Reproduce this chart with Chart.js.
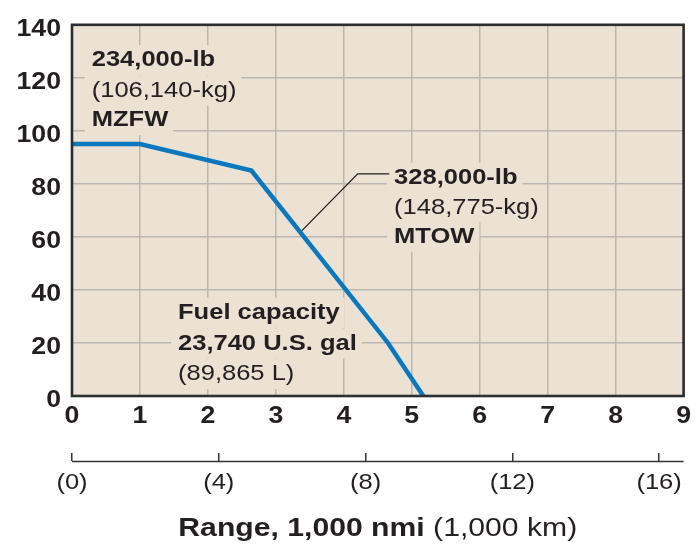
<!DOCTYPE html>
<html>
<head>
<meta charset="utf-8">
<script src="https://cdn.jsdelivr.net/npm/chart.js@4.4.1/dist/chart.umd.min.js"></script>
<style>
  html, body { margin: 0; padding: 0; background: #fff; }
  #wrap { width: 697px; height: 549px; }
</style>
</head>
<body>
<div id="wrap"><canvas id="myChart" width="697" height="549"></canvas></div>
<script>
// range in 1,000 nmi vs payload in 1,000 lb
const rangeNmi = [0, 1, 2.64, 4.65, 5.17];
const payloadLb = [95, 95, 85, 20, 0];

const xTicks = [0, 1, 2, 3, 4, 5, 6, 7, 8, 9];
const yTicks = [0, 20, 40, 60, 80, 100, 120, 140];
const kmTicks = [0, 4, 8, 12, 16];
const NM_TO_KM = 1.852;

const FONT = "'Liberation Sans', Arial, Helvetica, sans-serif";
const INK = "#231f20";
const TEXT_STRETCH = 1.16; // reference type is set wide

// notes drawn on the plot, anchored in data units
const notes = [
  { x: 0.29, y: [126.7, 115.2, 104.1], lines: [["234,000-lb", "bold"], ["(106,140-kg)", "normal"], ["MZFW", "bold"]] },
  { x: 4.74, y: [82.3, 71.1, 59.9], lines: [["328,000-lb", "bold"], ["(148,775-kg)", "normal"], ["MTOW", "bold"]] },
  { x: 1.56, y: [31.4, 19.8, 8.3], lines: [["Fuel capacity", "bold"], ["23,740 U.S. gal", "bold"], ["(89,865 L)", "normal"]] },
];
const leader = [[3.373, 62.1], [4.204, 83.8], [4.67, 83.8]];

const canvas = document.getElementById("myChart");
const ctx = canvas.getContext("2d");
const rawFill = ctx.fillText.bind(ctx);
ctx.fillText = function (text, x, y) {
  this.save();
  this.translate(x, y);
  this.scale(TEXT_STRETCH, 1);
  rawFill(text, 0, 0);
  this.restore();
};

const plotDecor = {
  id: "plotDecor",
  beforeDraw(chart) {
    const { ctx, chartArea: a } = chart;
    ctx.save();
    ctx.fillStyle = "#ebe2d4";
    ctx.fillRect(a.left, a.top, a.right - a.left, a.bottom - a.top);
    ctx.restore();
  },
  beforeDatasetsDraw(chart) {
    const { ctx, scales } = chart;
    const sx = scales.x, sy = scales.y;
    ctx.save();
    ctx.textBaseline = "middle";
    ctx.textAlign = "left";
    notes.forEach((n) => {
      const px = sx.getPixelForValue(n.x);
      n.lines.forEach(([txt, weight], i) => {
        const py = sy.getPixelForValue(n.y[i]);
        ctx.font = `${weight} 22px ${FONT}`;
        const w = ctx.measureText(txt).width * TEXT_STRETCH;
        ctx.fillStyle = "#ebe2d4";
        ctx.fillRect(px - 7, py - 15, w + 12, 30);
      });
    });
    notes.forEach((n) => {
      const px = sx.getPixelForValue(n.x);
      n.lines.forEach(([txt, weight], i) => {
        const py = sy.getPixelForValue(n.y[i]);
        ctx.font = `${weight} 22px ${FONT}`;
        ctx.fillStyle = INK;
        ctx.fillText(txt, px, py);
      });
    });
    ctx.strokeStyle = INK;
    ctx.lineWidth = 1.3;
    ctx.beginPath();
    leader.forEach(([x, y], i) => {
      const px = sx.getPixelForValue(x), py = sy.getPixelForValue(y);
      if (i === 0) ctx.moveTo(px, py); else ctx.lineTo(px, py);
    });
    ctx.stroke();
    ctx.restore();
  },
  afterDraw(chart) {
    const { ctx, chartArea: a, scales } = chart;
    ctx.save();
    ctx.strokeStyle = "#2b2f2e";
    ctx.lineWidth = 2.6;
    ctx.strokeRect(a.left, a.top, a.right - a.left, a.bottom - a.top);

    // km axis baseline under its tick marks
    const k = scales.x2;
    ctx.strokeStyle = "#333";
    ctx.lineWidth = 1.5;
    ctx.beginPath();
    ctx.moveTo(k.left, k.top + 8.5);
    ctx.lineTo(k.right, k.top + 8.5);
    ctx.stroke();

    // axis title: bold + regular parts
    const boldPart = "Range, 1,000 nmi ";
    const normPart = "(1,000 km)";
    ctx.font = `bold 26px ${FONT}`;
    const wb = ctx.measureText(boldPart).width * TEXT_STRETCH;
    ctx.font = `normal 26px ${FONT}`;
    const wn = ctx.measureText(normPart).width * TEXT_STRETCH;
    const cx = (a.left + a.right) / 2;
    const ty = k.bottom + 31;
    let x0 = cx - (wb + wn) / 2;
    ctx.textBaseline = "middle";
    ctx.textAlign = "left";
    ctx.fillStyle = INK;
    ctx.font = `bold 26px ${FONT}`;
    ctx.fillText(boldPart, x0, ty);
    ctx.font = `normal 26px ${FONT}`;
    ctx.fillText(normPart, x0 + wb, ty);
    ctx.restore();
  },
};

const data = {
  datasets: [
    {
      label: "Payload-range",
      data: rangeNmi.map((r, i) => ({ x: r, y: payloadLb[i] })),
      borderColor: "#0a78bf",
      borderWidth: 4.5,
      pointRadius: 0,
      tension: 0,
      borderCapStyle: "butt",
      borderJoinStyle: "miter",
    },
  ],
};

const config = {
  type: "line",
  data: data,
  options: {
    responsive: false,
    animation: false,
    devicePixelRatio: 1,
    layout: { padding: { top: 15, right: 12, left: 0, bottom: 51 } },
    plugins: { legend: { display: false }, tooltip: { enabled: false } },
    scales: {
      x: {
        type: "linear",
        position: "bottom",
        min: xTicks[0],
        max: xTicks[xTicks.length - 1],
        afterBuildTicks: (s) => { s.ticks = xTicks.map((v) => ({ value: v })); },
        afterFit: (s) => { s.height = 57; },
        grid: { color: "#bab6b0", lineWidth: 1.5, drawTicks: false },
        border: { display: false },
        ticks: {
          autoSkip: false,
          maxRotation: 0,
          padding: 7,
          color: INK,
          font: { family: FONT, size: 23, weight: "bold" },
        },
      },
      x2: {
        type: "linear",
        position: "bottom",
        min: 0,
        max: xTicks[xTicks.length - 1] * NM_TO_KM,
        afterBuildTicks: (s) => { s.ticks = kmTicks.map((v) => ({ value: v })); },
        afterFit: (s) => { s.height = 45; },
        grid: { drawOnChartArea: false, drawTicks: true, tickLength: 8, color: "#333", lineWidth: 1.5 },
        border: { display: false },
        ticks: {
          autoSkip: false,
          maxRotation: 0,
          padding: 9,
          color: INK,
          font: { family: FONT, size: 22, weight: "normal" },
          callback: (v) => `(${v})`,
        },
      },
      y: {
        type: "linear",
        min: yTicks[0],
        max: yTicks[yTicks.length - 1],
        afterBuildTicks: (s) => { s.ticks = yTicks.map((v) => ({ value: v })); },
        afterFit: (s) => { s.width = 72; },
        grid: { color: "#bab6b0", lineWidth: 1.5, drawTicks: false },
        border: { display: false },
        ticks: {
          padding: 11,
          labelOffset: 5,
          color: INK,
          font: { family: FONT, size: 23, weight: "bold" },
        },
      },
    },
  },
  plugins: [plotDecor],
};

const myChart = new Chart(canvas, config);
</script>
</body>
</html>
